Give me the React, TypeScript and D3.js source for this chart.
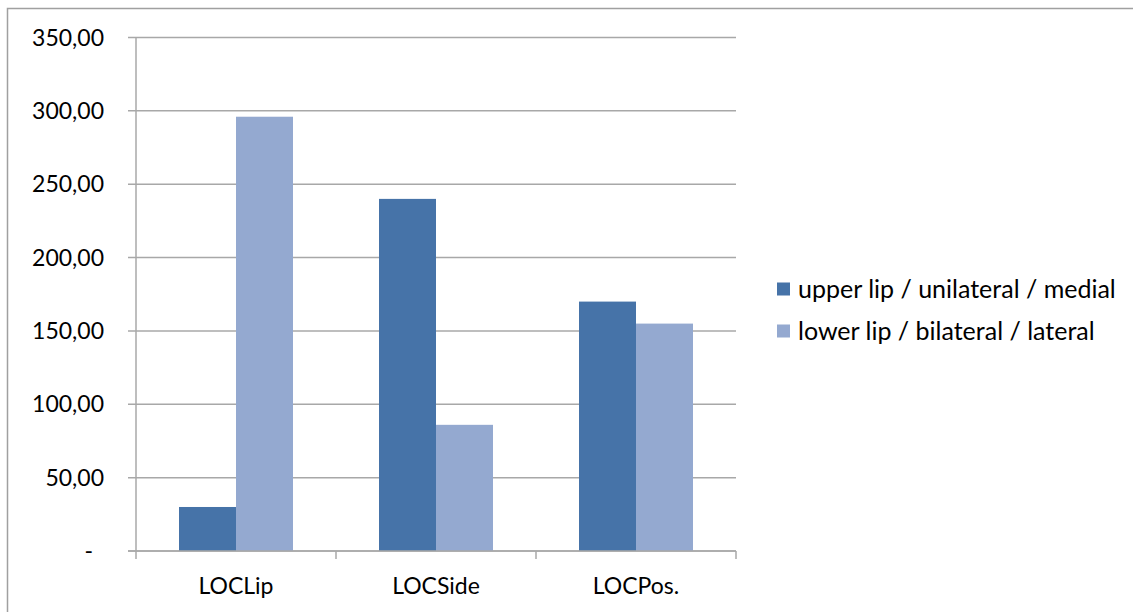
import React from "react";
import * as d3 from "d3";

const categories = ["LOCLip", "LOCSide", "LOCPos."];
const seriesNames = ["upper lip / unilateral / medial", "lower lip / bilateral / lateral"];
const upperValues = [30, 240, 170];
const lowerValues = [296, 86, 155];
const yTicks = [0, 50, 100, 150, 200, 250, 300, 350];
const colors = ["#4673A8", "#94A9D0"];

const W = 1133;
const H = 612;
const FONT = "Lato, 'Open Sans', sans-serif";

export default function App() {
  const x = d3.scaleBand<string>().domain(categories).range([136, 736]).padding(0);
  const inner = d3
    .scaleBand<number>()
    .domain([0, 1])
    .range([43, 157])
    .padding(0);
  const y = d3.scaleLinear().domain([0, 350]).range([551, 37.5]);
  const series = [upperValues, lowerValues];
  const fmt = (v: number) => (v === 0 ? "-" : d3.format(".2f")(v).replace(".", ","));
  const boundaries = [...categories.map((c) => x(c) as number), 736];

  return (
    <svg width={W} height={H} style={{ display: "block", position: "absolute", left: 0, top: 0 }}>
      <rect x={0} y={0} width={W} height={H} fill="#fff" />
      <rect x={7.5} y={8.5} width={W + 10} height={H + 10} fill="none" stroke="#a0a0a0" strokeWidth={1.5} />
      {/* gridlines */}
      {yTicks.map((t) => (
        <line key={"g" + t} x1={128} x2={736} y1={y(t)} y2={y(t)} stroke="#a8a8a8" strokeWidth={1.5} />
      ))}
      {/* bars */}
      {series.map((vals, si) =>
        categories.map((c, ci) => (
          <rect
            key={si + "-" + c}
            x={(x(c) as number) + (inner(si) as number)}
            y={y(vals[ci])}
            width={inner.bandwidth()}
            height={y(0) - y(vals[ci])}
            fill={colors[si]}
          />
        ))
      )}
      {/* axes */}
      <line x1={136} x2={136} y1={y(350)} y2={551} stroke="#a8a8a8" strokeWidth={1.5} />
      <line x1={128} x2={736} y1={551} y2={551} stroke="#a8a8a8" strokeWidth={1.5} />
      {boundaries.map((b, i) => (
        <line key={"xt" + i} x1={b} x2={b} y1={551} y2={559} stroke="#a8a8a8" strokeWidth={1.5} />
      ))}
      {yTicks.map((t) => (
        <text
          key={"yl" + t}
          x={t === 0 ? 93 : 104}
          y={y(t)}
          dy="0.35em"
          textAnchor="end"
          fontFamily={FONT}
          fontSize={23}
          fill="#000"
        >
          {fmt(t)}
        </text>
      ))}
      {categories.map((c) => (
        <text
          key={"xl" + c}
          x={(x(c) as number) + x.bandwidth() / 2}
          y={586}
          dy="0.35em"
          textAnchor="middle"
          fontFamily={FONT}
          fontSize={23}
          fill="#000"
        >
          {c}
        </text>
      ))}
      {/* legend */}
      {seriesNames.map((n, i) => (
        <g key={"lg" + i} transform={`translate(777, ${289 + i * 42})`}>
          <rect x={0} y={-6.5} width={13} height={13} fill={colors[i]} />
          <text x={21} y={0} dy="0.35em" fontFamily={FONT} fontSize={25} fill="#000">
            {n}
          </text>
        </g>
      ))}
    </svg>
  );
}
